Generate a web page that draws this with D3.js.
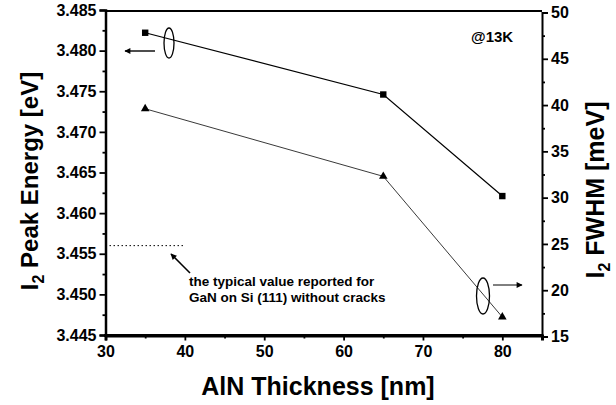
<!DOCTYPE html>
<html><head><meta charset="utf-8">
<script src="https://cdn.jsdelivr.net/npm/d3@7"></script>
<style>
html,body{margin:0;padding:0;background:#fff;}
svg{display:block;font-family:"Liberation Sans",Arial,sans-serif;}
</style></head>
<body>
<svg id="c" width="616" height="405"></svg>
<script>
// ---- data ----
const thickness = [35, 65, 80];                       // AlN thickness [nm]
const peakEnergy = [3.4822, 3.4746, 3.4621];          // I2 peak energy [eV] (squares, left axis)
const fwhm = [39.6, 32.3, 17.1];                      // I2 FWHM [meV] (triangles, right axis)
const typicalEnergy = 3.456;                          // typical value for GaN on Si(111)
const typicalRange = [30, 40];
const xTicks = [30, 40, 50, 60, 70, 80];
const yLeftTicks = [3.445, 3.450, 3.455, 3.460, 3.465, 3.470, 3.475, 3.480, 3.485];
const yRightTicks = [15, 20, 25, 30, 35, 40, 45, 50];
const xTitle = "AlN Thickness [nm]";
const noteLines = ["the typical value reported for", "GaN on Si (111) without cracks"];
const tempLabel = "@13K";

const svg = d3.select("#c");
const x = d3.scaleLinear([30, 85], [105.5, 542]);
const yL = d3.scaleLinear([3.445, 3.485], [335, 10]);
const yR = d3.scaleLinear([15, 50], [336.5, 12.5]);

// frame
svg.append("line").attr("x1",105).attr("x2",542).attr("y1",11).attr("y2",11).attr("stroke","#000").attr("stroke-width",1.8);
svg.append("line").attr("x1",104).attr("x2",543).attr("y1",335.5).attr("y2",335.5).attr("stroke","#000").attr("stroke-width",3);

// left axis
const gL = svg.append("g").attr("transform","translate(105.5,0)");
gL.call(d3.axisLeft(yL).tickValues(yLeftTicks).tickFormat(d3.format(".3f")).tickSize(6).tickPadding(3));
gL.append("g").call(d3.axisLeft(yL).tickValues(d3.range(3.4475,3.485,0.005)).tickFormat("").tickSize(3));
// right axis
const gR = svg.append("g").attr("transform","translate(542,0)");
gR.call(d3.axisRight(yR).tickValues(yRightTicks).tickFormat(d3.format("d")).tickSize(6).tickPadding(3));
gR.append("g").call(d3.axisRight(yR).tickValues(d3.range(17.5,50,5)).tickFormat("").tickSize(3));
// bottom axis
const gB = svg.append("g").attr("transform","translate(0,335.5)");
gB.call(d3.axisBottom(x).tickValues(xTicks).tickFormat(d3.format("d")).tickSize(5).tickPadding(5));
gB.append("g").call(d3.axisBottom(x).tickValues([35,45,55,65,75]).tickFormat("").tickSize(3));

svg.selectAll(".domain").attr("stroke","#000");
gL.select(".domain").attr("stroke-width",2.5);
gR.select(".domain").attr("stroke-width",2);
gB.select(".domain").attr("stroke-width",3);
svg.selectAll(".tick line").attr("stroke","#000").attr("stroke-width",1.8);
svg.selectAll(".tick text").attr("fill","#000").style("font-size","16px").style("font-weight","bold")
  .style("font-family","'Liberation Sans',Arial,sans-serif");

// energy series (squares)
const ptsE = thickness.map((t,i)=>[x(t), yL(peakEnergy[i])]);
svg.append("path").attr("d", d3.line()(ptsE)).attr("fill","none").attr("stroke","#000").attr("stroke-width",1.2);
svg.selectAll(".sq").data(ptsE).join("rect").attr("x",d=>d[0]-3.2).attr("y",d=>d[1]-3.2)
  .attr("width",6.4).attr("height",6.4).attr("fill","#000");

// FWHM series (triangles)
const ptsF = thickness.map((t,i)=>[x(t), yR(fwhm[i])]);
svg.append("path").attr("d", d3.line()(ptsF)).attr("fill","none").attr("stroke","#222").attr("stroke-width",0.9);
svg.selectAll(".tri").data(ptsF).join("path")
  .attr("d", d3.symbol().type(d3.symbolTriangle).size(32)())
  .attr("transform", d=>`translate(${d[0]},${d[1]})`).attr("fill","#000");

// typical value dotted line
svg.append("line").attr("x1",x(typicalRange[0])).attr("x2",x(typicalRange[1]))
  .attr("y1",yL(typicalEnergy)).attr("y2",yL(typicalEnergy))
  .attr("stroke","#000").attr("stroke-width",1).attr("stroke-dasharray","1.5,2.5");

// arrow marker
const defs = svg.append("defs");
defs.append("marker").attr("id","ah").attr("viewBox","0 0 10 10").attr("refX",9).attr("refY",5)
  .attr("markerWidth",7).attr("markerHeight",6).attr("orient","auto-start-reverse").attr("markerUnits","userSpaceOnUse")
  .append("path").attr("d","M0,0 L10,5 L0,10 z").attr("fill","#000");

// annotation arrow
svg.append("line").attr("x1",190).attr("y1",273).attr("x2",171).attr("y2",254)
  .attr("stroke","#000").attr("stroke-width",1.6).attr("marker-end","url(#ah)");
svg.append("g").selectAll("text").data(noteLines).join("text")
  .attr("x",189).attr("y",(d,i)=>286+i*16).text(d=>d)
  .style("font-size","13.5px").style("font-weight","bold").attr("fill","#000");

// ellipse + arrow for left-axis series
svg.append("ellipse").attr("cx",169).attr("cy",43).attr("rx",5).attr("ry",15)
  .attr("fill","none").attr("stroke","#000").attr("stroke-width",1.3);
svg.append("line").attr("x1",155).attr("y1",51).attr("x2",125).attr("y2",51)
  .attr("stroke","#000").attr("stroke-width",1.4).attr("marker-end","url(#ah)");
// ellipse + arrow for right-axis series
svg.append("ellipse").attr("cx",483).attr("cy",296).attr("rx",6.5).attr("ry",18)
  .attr("fill","none").attr("stroke","#000").attr("stroke-width",1.3);
svg.append("line").attr("x1",493).attr("y1",285).attr("x2",522).attr("y2",285)
  .attr("stroke","#000").attr("stroke-width",1).attr("marker-end","url(#ah)");

// temperature label
svg.append("text").attr("x",471).attr("y",41.5).text(tempLabel)
  .style("font-size","15px").style("font-weight","bold");

// axis titles
svg.append("text").attr("x",318).attr("y",395).attr("text-anchor","middle").text(xTitle)
  .style("font-size","25px").style("font-weight","bold");
const tl = svg.append("text").attr("transform","translate(38,181) rotate(-90)").attr("text-anchor","middle")
  .style("font-size","24px").style("font-weight","bold");
tl.append("tspan").text("I");
tl.append("tspan").attr("dy",6).style("font-size","16px").text("2");
tl.append("tspan").attr("dy",-6).text(" Peak Energy [eV]");
const tr = svg.append("text").attr("transform","translate(604,190) rotate(-90)").attr("text-anchor","middle")
  .style("font-size","25px").style("font-weight","bold");
tr.append("tspan").text("I");
tr.append("tspan").attr("dy",6).style("font-size","16px").text("2");
tr.append("tspan").attr("dy",-6).text(" FWHM [meV]");
</script>
</body></html>
